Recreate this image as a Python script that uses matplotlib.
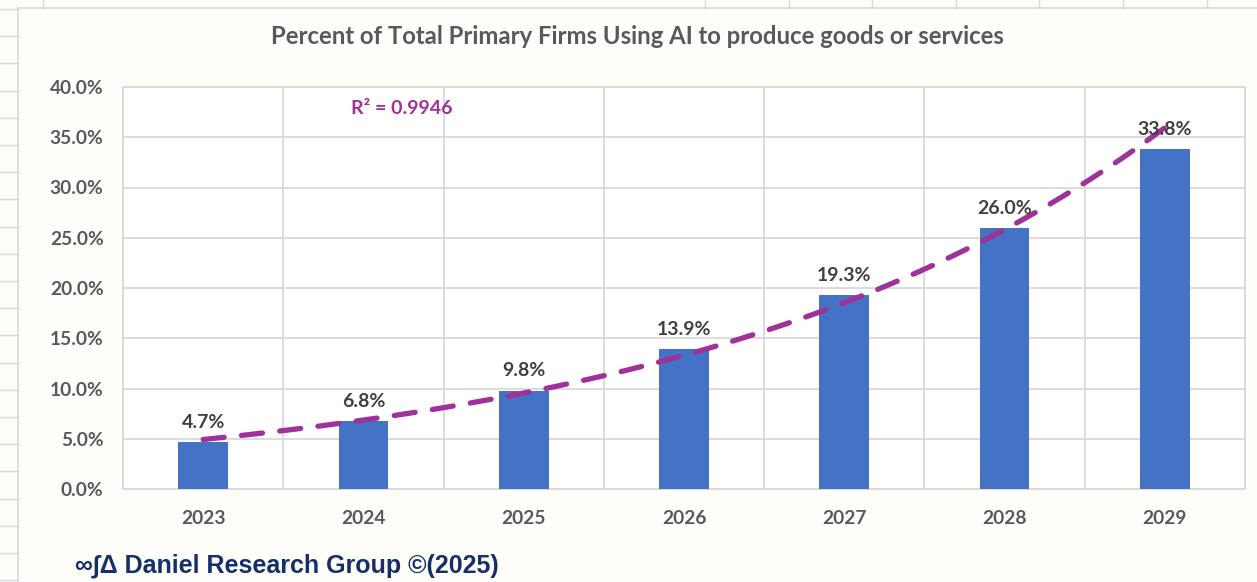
import numpy as np
import matplotlib
matplotlib.use('Agg')
import matplotlib.pyplot as plt
from matplotlib.lines import Line2D
from matplotlib.patches import Rectangle

years = ['2023', '2024', '2025', '2026', '2027', '2028', '2029']
share = [4.7, 6.8, 9.8, 13.9, 19.3, 26.0, 33.8]
labels = ['4.7%', '6.8%', '9.8%', '13.9%', '19.3%', '26.0%', '33.8%']
r2_text = 'R\u00b2 = 0.9946'
title = 'Percent of Total Primary Firms Using AI to produce goods or services'
footer = '\u221e\u222b\u0394 Daniel Research Group \u00a9(2025)'

W, H = 1257, 582
bg = '#FDFDFA'
grid_c = '#D9D9D9'
bar_c = '#4472C4'
trend_c = '#A0309A'
txt_c = '#595959'
fnt = ['Lato', 'DejaVu Sans']

fig = plt.figure(figsize=(W / 100, H / 100), dpi=100, facecolor=bg)

# spreadsheet cell lines around the chart object
for k in range(22):
    y = 9 + 27.2 * k
    fig.add_artist(Line2D([0, 18 / W], [1 - y / H, 1 - y / H], color=grid_c, lw=1))
for x in [43, 705, 789, 872, 956, 1039, 1123, 1207]:
    fig.add_artist(Line2D([x / W, x / W], [1, 1 - 8 / H], color=grid_c, lw=1))
fig.add_artist(Rectangle((18 / W, -0.1), 1.2, 1.1 - 8 / H, fill=True,
                         facecolor=bg, edgecolor=grid_c, lw=1.2, zorder=0))

ax = fig.add_axes([123 / W, (H - 489) / H, 1122 / W, 402 / H])
ax.set_facecolor('#FFFFFF')

x = np.arange(len(years))
ax.bar(x, share, width=0.31, color=bar_c, zorder=3)

# exponential trendline (excel style)
xi = np.arange(1, len(share) + 1)
b, a = np.polyfit(xi, np.log(share), 1)
xs = np.linspace(1, len(share), 200)
ax.plot(xs - 1, np.exp(a + b * xs), color=trend_c, lw=3.8, ls=(0, (4, 3.3)),
        dash_capstyle='round', zorder=4)

for xx, v, lab in zip(x, share, labels):
    ax.annotate(lab, (xx, v), xytext=(0, 8), textcoords='offset points',
                ha='center', va='bottom', fontsize=14, fontweight='bold',
                color='#404040', family=fnt, zorder=5)

ax.text(1.24, 37.9, r2_text, ha='center', va='center', fontsize=14,
        fontweight='bold', color=trend_c, family=fnt)

ax.set_xlim(-0.5, len(years) - 0.5)
ax.set_ylim(0, 40)
ax.set_yticks(np.arange(0, 41, 5))
ax.set_yticklabels(['%.1f%%' % t for t in np.arange(0, 41, 5)])
ax.set_xticks(x)
ax.set_xticklabels(years)
ax.set_xticks(np.arange(-0.5, len(years)), minor=True)
ax.grid(True, axis='y', color=grid_c, lw=1.3, zorder=0)
ax.grid(True, axis='x', which='minor', color=grid_c, lw=1.3, zorder=0)
ax.tick_params(which='both', length=0)
ax.tick_params(axis='y', pad=14)
ax.tick_params(axis='x', pad=15)
for t in ax.get_xticklabels() + ax.get_yticklabels():
    t.set_fontsize(13.8)
    t.set_fontweight('bold')
    t.set_color(txt_c)
    t.set_family(fnt)
for s in ax.spines.values():
    s.set_color(grid_c)
    s.set_linewidth(1.3)

fig.text(637 / W, 1 - 37 / H, title, ha='center', va='center', fontsize=17.2,
         fontweight='bold', color=txt_c, family=fnt)
fig.text(75 / W, 1 - 566 / H, footer, ha='left', va='center', fontsize=18,
         fontweight='bold', color='#162F6A',
         family=['Liberation Sans', 'DejaVu Sans'])

fig.savefig('out.png', dpi=100, facecolor=bg)
